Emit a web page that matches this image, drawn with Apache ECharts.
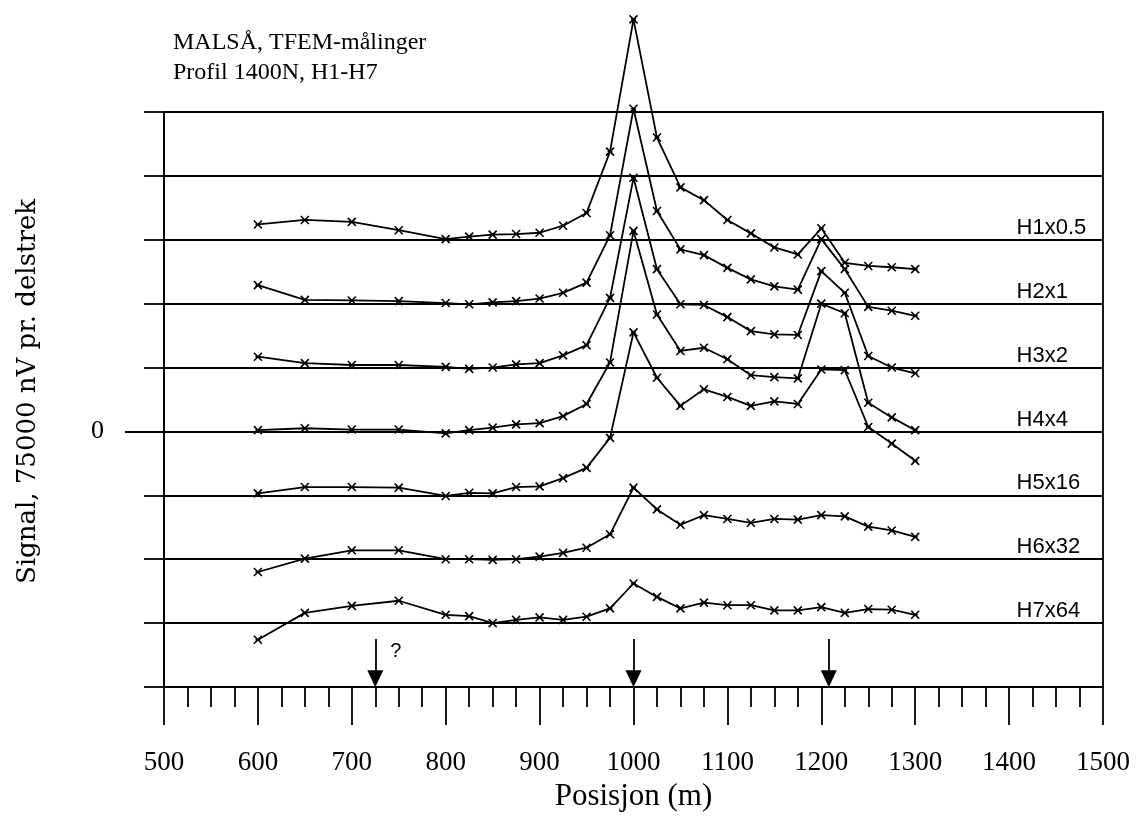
<!DOCTYPE html>
<html><head><meta charset="utf-8">
<script src="https://cdn.jsdelivr.net/npm/echarts@6/dist/echarts.min.js"></script>
<style>html,body{margin:0;padding:0;background:#fff}#c{width:1138px;height:818px}</style>
</head><body><div id="c"></div>
<script>
// Positions along the profile (m)
const positions = [600,650,700,750,800,825,850,875,900,925,950,975,1000,1025,1050,1075,1100,1125,1150,1175,1200,1225,1250,1275,1300];
const seriesNames = ['H1x0.5','H2x1','H3x2','H4x4','H5x16','H6x32','H7x64'];
// Baseline (in delstrek) each scaled channel is drawn on
const baselines = [3,2,1,0,-1,-2,-3];
// Signal relative to its own baseline, in delstrek (75000 nV per delstrek)
const h1 = [0.24,0.31,0.28,0.15,0.01,0.05,0.08,0.09,0.11,0.22,0.42,1.38,3.45,1.60,0.82,0.62,0.31,0.10,-0.12,-0.23,0.18,-0.36,-0.41,-0.43,-0.46];
const h2 = [0.29,0.06,0.05,0.04,0.01,-0.01,0.02,0.04,0.08,0.17,0.33,1.07,3.05,1.45,0.85,0.76,0.56,0.38,0.27,0.22,1.01,0.54,-0.05,-0.11,-0.19];
const h3 = [0.17,0.07,0.04,0.04,0.01,-0.02,0.00,0.05,0.07,0.19,0.35,1.09,2.97,1.54,0.99,0.98,0.79,0.57,0.52,0.51,1.51,1.17,0.18,0.00,-0.09];
const h4 = [0.02,0.05,0.03,0.03,-0.03,0.02,0.06,0.11,0.13,0.24,0.43,1.08,3.14,1.83,1.26,1.31,1.13,0.88,0.85,0.83,2.00,1.85,0.45,0.22,0.02];
const h5 = [0.03,0.13,0.13,0.12,-0.01,0.04,0.03,0.13,0.14,0.27,0.43,0.90,2.55,1.84,1.40,1.66,1.54,1.40,1.47,1.43,1.97,1.96,1.07,0.81,0.54];
const h6 = [-0.20,0.01,0.14,0.14,0.00,0.00,-0.01,0.00,0.04,0.10,0.18,0.39,1.12,0.78,0.54,0.69,0.63,0.57,0.63,0.62,0.69,0.67,0.51,0.45,0.35];
const h7 = [-0.26,0.16,0.27,0.35,0.13,0.11,0.00,0.05,0.09,0.05,0.10,0.23,0.62,0.41,0.23,0.32,0.28,0.28,0.20,0.20,0.25,0.16,0.22,0.21,0.13];
const channels = [h1,h2,h3,h4,h5,h6,h7];
// Anomaly arrows (m)
const arrowPositions = [725, 1000, 1208];
const arrowLabels = ['?', '', ''];

const SERIF = 'Liberation Serif';
const WIDE_SERIF = 'DejaVu Serif';
const SANS = 'Liberation Sans';
const labelX = 1408;
const arrowTop = -3.25;
const arrowEnd = -3.87;
const LW = 1.8;

const series = channels.map((vals, i) => ({
  name: seriesNames[i],
  type: 'line',
  data: positions.map((x, j) => [x, baselines[i] + vals[j]]),
  symbol: 'path://M0,0L10,10M0,10L10,0M2,5L8,5',
  symbolSize: 8,
  clip: false,
  lineStyle: { color: '#000', width: LW },
  itemStyle: { color: '#000', borderColor: '#000', borderWidth: 1.6 },
  silent: true,
  markPoint: {
    silent: true,
    symbol: 'circle',
    symbolSize: 0,
    data: [{ coord: [labelX, baselines[i]], value: 0 }],
    label: { show: true, formatter: seriesNames[i], color: '#000', fontFamily: SANS, fontSize: 22,
             align: 'left', verticalAlign: 'middle', offset: [0, -12] }
  }
}));

// arrows + "?"
series.push({
  type: 'line',
  data: [],
  silent: true,
  markLine: {
    silent: true,
    symbol: ['none', 'triangle'],
    symbolSize: [16, 17],
    lineStyle: { color: '#000', width: LW, type: 'solid' },
    label: { show: false },
    data: arrowPositions.map(x => [{ coord: [x, arrowTop] }, { coord: [x, arrowEnd] }])
  },
  markPoint: {
    silent: true,
    symbol: 'circle',
    symbolSize: 0,
    label: { show: true, color: '#000', fontFamily: SANS, fontSize: 20, formatter: p => p.name },
    data: arrowPositions.map((x, i) => ({ name: arrowLabels[i], coord: [x + 22, -3.45] }))
  }
});

const chart = echarts.init(document.getElementById('c'), null, { renderer: 'canvas' });
chart.setOption({
  animation: false,
  backgroundColor: '#fff',
  title: {
    text: 'MALSÅ, TFEM-målinger\nProfil 1400N, H1-H7',
    left: 168, top: 23,
    textStyle: { fontFamily: SERIF, fontSize: 24, fontWeight: 'normal', color: '#000', lineHeight: 30 }
  },
  grid: { left: 164, right: 35, top: 112, bottom: 131, show: true, borderColor: '#000', borderWidth: LW, backgroundColor: 'transparent' },
  xAxis: {
    type: 'value', min: 500, max: 1500, interval: 100,
    name: 'Posisjon (m)', nameLocation: 'middle', nameGap: 94,
    nameTextStyle: { fontFamily: SERIF, fontSize: 31, color: '#000' },
    axisLine: { show: true, onZero: false, lineStyle: { color: '#000', width: LW } },
    axisTick: { show: true, length: 38, lineStyle: { color: '#000', width: LW } },
    minorTick: { show: true, splitNumber: 4, length: 20, lineStyle: { color: '#000', width: LW } },
    axisLabel: { margin: 62, fontFamily: SERIF, fontSize: 27, color: '#000', formatter: v => String(v) },
    splitLine: { show: false }
  },
  yAxis: [{
    type: 'value', min: -4, max: 5, interval: 1,
    name: 'Signal, 75000 nV pr. delstrek', nameLocation: 'middle', nameGap: 123,
    nameTextStyle: { fontFamily: WIDE_SERIF, fontSize: 26, color: '#000', padding: [0, 0, 0, 16] },
    axisLine: { show: true, onZero: false, lineStyle: { color: '#000', width: LW } },
    axisTick: { show: true, length: 20, lineStyle: { color: '#000', width: LW } },
    axisLabel: { margin: 60, fontFamily: SERIF, fontSize: 26, color: '#000', formatter: v => (v === 0 ? '0' : '') },
    splitLine: { show: true, lineStyle: { color: '#000', width: LW } }
  }, {
    type: 'value', min: -4, max: 5, interval: 1, position: 'left',
    axisLine: { show: false },
    axisLabel: { show: false },
    splitLine: { show: false },
    axisTick: { show: true, customValues: [0], length: 39, lineStyle: { color: '#000', width: LW } }
  }],
  series: series
});
</script>
</body></html>
